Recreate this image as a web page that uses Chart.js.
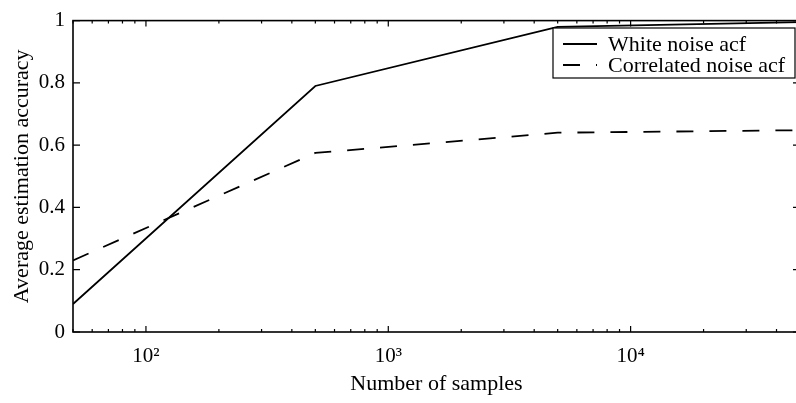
<!DOCTYPE html>
<html>
<head>
<meta charset="utf-8">
<script src="https://cdn.jsdelivr.net/npm/chart.js@4.4.0/dist/chart.umd.min.js"></script>
<style>
    html, body { margin: 0; padding: 0; background: #fff; overflow: hidden; }
    #wrap { position: relative; width: 812px; height: 403px; }
</style>
</head>
<body>
<div id="wrap"><canvas id="grafico"></canvas></div>
<script>
// Datos
const samples = [50, 500, 5000, 50000];
const whiteNoise = [0.09, 0.79, 0.98, 0.995];
const correlatedNoise = [0.23, 0.575, 0.64, 0.648];
const seriesLabels = ['White noise acf', 'Correlated noise acf'];

const xMajorTicks = [100, 1000, 10000];
const xTickLabels = ['10\u00b2', '10\u00b3', '10\u2074'];
const yTicks = [0, 0.2, 0.4, 0.6, 0.8, 1];
const yTickLabels = ['0', '0.2', '0.4', '0.6', '0.8', '1'];

const FONT = 'Liberation Serif';

function toPoints(xs, ys) {
    return xs.map((x, i) => ({ x: x, y: ys[i] }));
}

// Marco, ticks hacia adentro y leyenda dentro del area
const boxPlugin = {
    id: 'boxPlugin',
    afterDraw(chart) {
        const ctx = chart.ctx;
        const area = chart.chartArea;
        const xs = chart.scales.x;
        const ys = chart.scales.y;
        ctx.save();
        ctx.strokeStyle = '#000';
        ctx.lineWidth = 1.6;
        ctx.setLineDash([]);
        ctx.strokeRect(area.left, area.top, area.right - area.left, area.bottom - area.top);

        ctx.lineWidth = 1.2;
        ctx.beginPath();
        xs.ticks.forEach(t => {
            const px = xs.getPixelForValue(t.value);
            const major = xMajorTicks.some(m => Math.abs(m - t.value) < 1e-6);
            const len = major ? 6 : 3;
            ctx.moveTo(px, area.bottom);
            ctx.lineTo(px, area.bottom - len);
            ctx.moveTo(px, area.top);
            ctx.lineTo(px, area.top + len);
        });
        ys.ticks.forEach(t => {
            const py = ys.getPixelForValue(t.value);
            ctx.moveTo(area.left, py);
            ctx.lineTo(area.left + 7, py);
            ctx.moveTo(area.right, py);
            ctx.lineTo(area.right - 7, py);
        });
        ctx.stroke();

        // leyenda
        const lx = 553, ly = 28, lw = 242, lh = 50;
        ctx.fillStyle = '#fff';
        ctx.fillRect(lx, ly, lw, lh);
        ctx.lineWidth = 1.2;
        ctx.strokeRect(lx, ly, lw, lh);
        ctx.font = '22px "' + FONT + '"';
        ctx.textBaseline = 'middle';
        ctx.textAlign = 'left';
        chart.data.datasets.forEach((ds, i) => {
            const y = ly + 16 + i * 21;
            ctx.strokeStyle = ds.borderColor;
            ctx.lineWidth = ds.borderWidth;
            ctx.setLineDash(ds.borderDash || []);
            ctx.beginPath();
            ctx.moveTo(lx + 10, y);
            ctx.lineTo(lx + 44, y);
            ctx.stroke();
            ctx.fillStyle = '#000';
            ctx.fillText(ds.label, lx + 55, y + 1);
        });
        ctx.restore();
    }
};

const ctx = document.getElementById('grafico').getContext('2d');
const chart = new Chart(ctx, {
    type: 'line',
    data: {
        datasets: [{
            label: seriesLabels[0],
            data: toPoints(samples, whiteNoise),
            borderColor: '#000',
            borderWidth: 1.8,
            pointRadius: 0,
            tension: 0,
            fill: false
        }, {
            label: seriesLabels[1],
            data: toPoints(samples, correlatedNoise),
            borderColor: '#000',
            borderWidth: 1.8,
            borderDash: [17, 16],
            pointRadius: 0,
            tension: 0,
            fill: false
        }]
    },
    options: {
        responsive: true,
        maintainAspectRatio: false,
        animation: false,
        layout: { padding: { top: 16, right: 7, left: 0, bottom: 0 } },
        plugins: {
            legend: { display: false },
            tooltip: { enabled: false }
        },
        scales: {
            x: {
                type: 'logarithmic',
                min: samples[0],
                max: samples[samples.length - 1],
                grid: { display: false, drawTicks: false },
                border: { display: false },
                afterBuildTicks: function(scale) {
                    const ticks = [];
                    for (let k = 1; k <= 4; k++) {
                        for (let m = 1; m <= 9; m++) {
                            const v = m * Math.pow(10, k);
                            if (v >= scale.min && v <= scale.max) ticks.push({ value: v });
                        }
                    }
                    scale.ticks = ticks;
                },
                afterFit: function(scale) { scale.height = 71; },
                ticks: {
                    color: '#000',
                    font: { family: FONT, size: 21 },
                    padding: 12,
                    autoSkip: false,
                    maxRotation: 0,
                    callback: function(value) {
                        const i = xMajorTicks.findIndex(m => Math.abs(m - value) < 1e-6);
                        return i >= 0 ? xTickLabels[i] : '';
                    }
                },
                title: {
                    display: true,
                    text: 'Number of samples',
                    color: '#000',
                    font: { family: FONT, size: 22 },
                    padding: { top: 0, bottom: 6 }
                }
            },
            y: {
                min: 0,
                max: 1,
                grid: { display: false, drawTicks: false },
                border: { display: false },
                afterBuildTicks: function(scale) {
                    scale.ticks = yTicks.map(v => ({ value: v }));
                },
                afterFit: function(scale) { scale.width = 73; },
                ticks: {
                    color: '#000',
                    font: { family: FONT, size: 21 },
                    padding: 8,
                    callback: function(value) {
                        const i = yTicks.findIndex(t => Math.abs(t - value) < 1e-9);
                        return i >= 0 ? yTickLabels[i] : '';
                    }
                },
                title: {
                    display: true,
                    text: 'Average estimation accuracy',
                    color: '#000',
                    font: { family: FONT, size: 22 },
                    padding: { top: 9, bottom: 0 }
                }
            }
        }
    },
    plugins: [boxPlugin]
});
</script>
</body>
</html>
